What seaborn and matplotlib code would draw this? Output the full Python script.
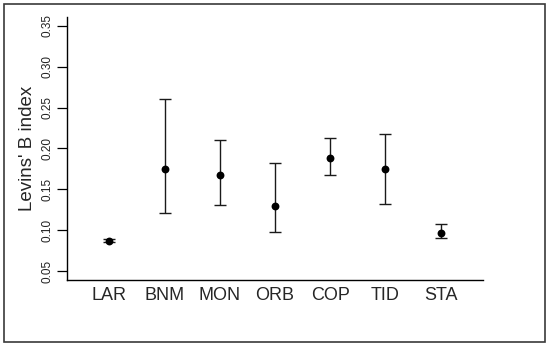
"""
Levins' B index by site: point estimate with interval
"""

import matplotlib
matplotlib.use('Agg')
import matplotlib.pyplot as plt
import matplotlib.patches as patches
import seaborn as sns
import pandas as pd

sns.set_style('white')
plt.rcParams['font.family'] = ['Liberation Sans', 'DejaVu Sans']

# Data
sites = ['LAR', 'BNM', 'MON', 'ORB', 'COP', 'TID', 'STA']
levins_b = [0.087, 0.175, 0.168, 0.129, 0.188, 0.175, 0.097]
lower = [0.085, 0.121, 0.131, 0.098, 0.167, 0.132, 0.091]
upper = [0.089, 0.261, 0.210, 0.182, 0.213, 0.218, 0.107]
y_ticks = [0.05, 0.10, 0.15, 0.20, 0.25, 0.30, 0.35]

df = pd.DataFrame({'site': sites, 'B': levins_b, 'lo': lower, 'hi': upper})

W, H = 550, 347
fig = plt.figure(figsize=(W / 100, H / 100), dpi=100)
ax = fig.add_axes([67 / W, (H - 280) / H, (483 - 67) / W, (280 - 17) / H])

# intervals
err = [df['B'] - df['lo'], df['hi'] - df['B']]
ax.errorbar(range(len(sites)), df['B'], yerr=err, fmt='none',
            ecolor='#1a1a1a', elinewidth=1.0, capsize=4, capthick=1.0, zorder=2)
# point estimates
sns.scatterplot(data=df, x='site', y='B', ax=ax, color='black', s=32,
                edgecolor='black', linewidth=0, zorder=3)

ax.set_xlim(-0.765, len(sites) - 1 + 0.765)
ax.set_ylim(0.039, 0.361)
ax.set_yticks(y_ticks)
ax.set_yticklabels([f'{t:.2f}' for t in y_ticks], rotation=90, va='center',
                   fontsize=8.5)
ax.tick_params(axis='y', length=7, width=0.9, color='black', pad=2.5,
               left=True, labelcolor='#222222')
ax.tick_params(axis='x', length=0, pad=5, labelsize=13)
ax.set_xlabel('')
ax.set_ylabel("Levins' B index", fontsize=13.5, labelpad=4)

for s in ['top', 'right']:
    ax.spines[s].set_visible(False)
for s in ['left', 'bottom']:
    ax.spines[s].set_color('black')
    ax.spines[s].set_linewidth(1.0)

# outer frame
fig.patches.append(patches.Rectangle((4 / W, (H - 342) / H), (545 - 4) / W,
                                     (342 - 4) / H, transform=fig.transFigure,
                                     fill=False, edgecolor='#3a3a3a', lw=1.2))

fig.savefig('out.png', dpi=100)
